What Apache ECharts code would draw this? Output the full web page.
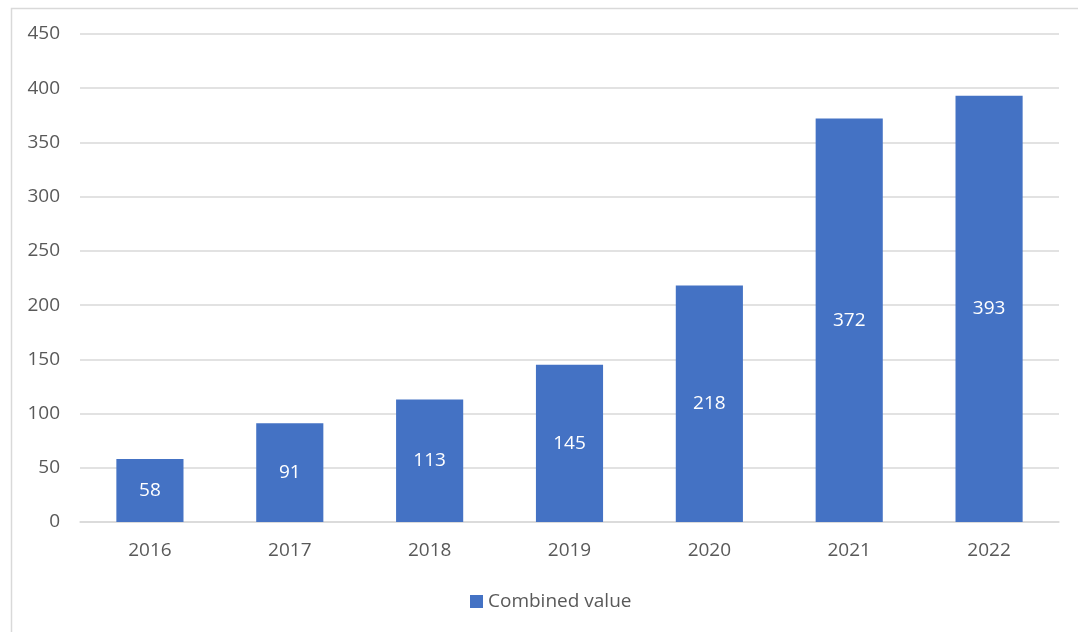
<!DOCTYPE html>
<html>
<head>
<meta charset="utf-8">
<script src="https://cdn.jsdelivr.net/npm/echarts@6/dist/echarts.min.js"></script>
<style>
html,body{margin:0;padding:0;background:#fff;}
#chart{width:1078px;height:632px;}
</style>
</head>
<body>
<div id="chart"></div>
<script>
const categories = ['2016','2017','2018','2019','2020','2021','2022'];
const values = [58, 91, 113, 145, 218, 372, 393];
const seriesName = 'Combined value';

const FONT = '"Open Sans", sans-serif';
const chart = echarts.init(document.getElementById('chart'), null, {renderer:'canvas'});
chart.setOption({
  animation: false,
  backgroundColor: '#ffffff',
  graphic: [{
    type: 'rect',
    shape: {x: 11.5, y: 8.5, width: 1200, height: 800},
    style: {fill: 'none', stroke: '#d9d9d9', lineWidth: 1.5},
    silent: true
  }],
  grid: {left: 80, right: 19, top: 34, bottom: 110, containLabel: false},
  legend: {
    bottom: 16,
    left: 465,
    itemWidth: 13, itemHeight: 13,
    itemGap: 4,
    icon: 'rect',
    textStyle: {fontFamily: FONT, fontSize: 19, color: '#595959', padding: [0,0,0,0]},
    data: [seriesName]
  },
  xAxis: {
    type: 'category',
    data: categories,
    axisLine: {show: true, lineStyle: {color: '#d9d9d9', width: 1.5}},
    axisTick: {show: false},
    axisLabel: {fontFamily: FONT, fontSize: 19, color: '#595959', margin: 19}
  },
  yAxis: {
    type: 'value',
    min: 0, max: 450, interval: 50,
    axisLine: {show: false},
    axisTick: {show: false},
    splitLine: {lineStyle: {color: '#d9d9d9', width: 1.5}},
    axisLabel: {fontFamily: FONT, fontSize: 19, color: '#595959', margin: 20}
  },
  series: [{
    name: seriesName,
    type: 'bar',
    data: values,
    barWidth: '48%',
    itemStyle: {color: '#4472c4'},
    label: {
      show: true,
      position: 'inside',
      fontFamily: FONT, fontSize: 19, color: '#ffffff'
    }
  }]
});
</script>
</body>
</html>
